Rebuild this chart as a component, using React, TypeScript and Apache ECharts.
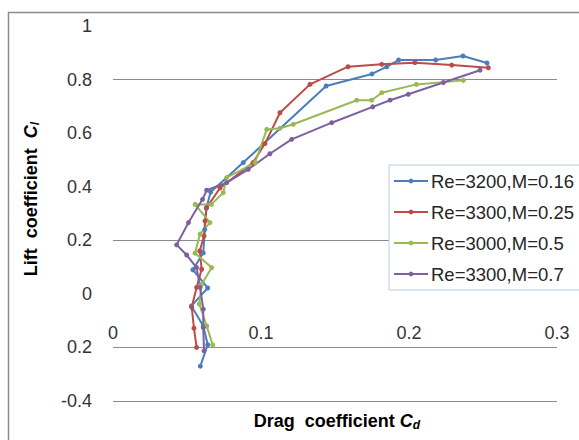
import React, { useEffect, useRef } from 'react';
import * as echarts from 'echarts';

const seriesNames = ['Re=3200,M=0.16', 'Re=3300,M=0.25', 'Re=3000,M=0.5', 'Re=3300,M=0.7'];
const seriesColors = ['#4a7ebb', '#be4b48', '#98b954', '#7d60a0'];

// [Cd, Cl]
const blueData = [
  [0.059, -0.27], [0.064, -0.19], [0.061, -0.12], [0.053, -0.045], [0.064, 0.022],
  [0.054, 0.09], [0.061, 0.153], [0.062, 0.24], [0.063, 0.32], [0.066, 0.38],
  [0.088, 0.49], [0.144, 0.776], [0.175, 0.821], [0.185, 0.848], [0.193, 0.873],
  [0.218, 0.873], [0.2365, 0.888], [0.2527, 0.862],
];
const redData = [
  [0.0565, -0.2], [0.0547, -0.128], [0.0532, -0.05], [0.0565, 0.024], [0.0599, 0.092],
  [0.0586, 0.16], [0.0615, 0.216], [0.0622, 0.272], [0.0633, 0.322], [0.0723, 0.395],
  [0.0946, 0.49], [0.1027, 0.561], [0.1128, 0.676], [0.1331, 0.782], [0.1588, 0.848],
  [0.1816, 0.857], [0.204, 0.863], [0.2289, 0.854], [0.2536, 0.844],
];
const greenData = [
  [0.0674, -0.191], [0.0633, -0.12], [0.0583, -0.038], [0.0599, 0.036], [0.0667, 0.098],
  [0.0554, 0.152], [0.0588, 0.223], [0.0655, 0.266], [0.0555, 0.334], [0.0665, 0.334],
  [0.0745, 0.378], [0.0768, 0.434], [0.096, 0.49], [0.1039, 0.614], [0.1128, 0.618],
  [0.1218, 0.633], [0.1647, 0.723], [0.1748, 0.723], [0.1816, 0.751], [0.205, 0.782],
  [0.2367, 0.797],
];
const purpleData = [
  [0.0615, -0.213], [0.061, -0.126], [0.061, -0.057], [0.0588, 0.024], [0.0565, 0.098],
  [0.0498, 0.145], [0.043, 0.183], [0.051, 0.266], [0.0605, 0.353], [0.0633, 0.387],
  [0.0768, 0.415], [0.0914, 0.465], [0.106, 0.523], [0.1207, 0.577], [0.1478, 0.639],
  [0.1755, 0.698], [0.1872, 0.723], [0.1995, 0.745], [0.2232, 0.789], [0.248, 0.835],
];
const allData = [blueData, redData, greenData, purpleData];

const gridLineValues = [0.8, 0.2, -0.2, -0.4];
const yTickLabels: Record<string, string> = {
  '1': '1', '0.8': '0.8', '0.6': '0.6', '0.4': '0.4', '0.2': '0.2', '0': '0', '-0.2': '0.2', '-0.4': '-0.4',
};
const xTickLabels: Record<string, string> = { '0': '0', '0.1': '0.1', '0.2': '0.2', '0.3': '0.3' };

const FONT = 'Liberation Sans';

export default function App() {
  const ref = useRef<HTMLDivElement>(null);
  useEffect(() => {
    if (!ref.current) return;
    const chart = echarts.init(ref.current, undefined, { renderer: 'svg' });
    const key = (v: number) => String(Math.round(v * 10) / 10);
    const series: any[] = allData.map((d, i) => ({
      name: seriesNames[i],
      type: 'line',
      data: d,
      symbol: 'circle',
      symbolSize: 5,
      showSymbol: true,
      lineStyle: { width: 2, color: seriesColors[i] },
      itemStyle: { color: seriesColors[i] },
      z: 2,
    }));
    series.push({
      name: 'grid',
      type: 'line',
      data: [],
      silent: true,
      z: 1,
      markLine: {
        silent: true,
        z: 1,
        symbol: 'none',
        label: { show: false },
        lineStyle: { color: '#8a8a8a', width: 1, type: 'solid' },
        data: gridLineValues.map((v) => ({ yAxis: v })),
      },
    });
    chart.setOption({
      animation: false,
      textStyle: { fontFamily: FONT },
      grid: { left: 113, right: 22, top: 26, bottom: 39 },
      xAxis: {
        type: 'value',
        position: 'bottom',
        min: 0,
        max: 0.3,
        interval: 0.1,
        axisLine: { show: false, onZero: false },
        axisTick: { show: false },
        splitLine: { show: false },
        axisLabel: {
          margin: -77,
          fontSize: 18,
          color: '#333333',
          fontFamily: FONT,
          formatter: (v: number) => xTickLabels[key(v)] ?? key(v),
        },
      },
      yAxis: {
        type: 'value',
        min: -0.4,
        max: 1,
        interval: 0.2,
        axisLine: { show: false },
        axisTick: { show: false },
        splitLine: { show: false },
        axisLabel: {
          margin: 21,
          fontSize: 18,
          color: '#333333',
          fontFamily: FONT,
          formatter: (v: number) => yTickLabels[key(v)] ?? key(v),
        },
      },
      legend: {
        data: seriesNames,
        orient: 'vertical',
        left: 389,
        top: 165,
        width: 189,
        z: 10,
        padding: [5, 10, 5, 4],
        itemWidth: 34,
        itemHeight: 6,
        itemGap: 9,
        backgroundColor: '#ffffff',
        borderColor: '#b9cde5',
        borderWidth: 1,
        borderRadius: 0,
        textStyle: { fontSize: 18.5, color: '#262626', fontFamily: FONT, lineHeight: 22, padding: [0, 0, 0, -2] },
      },
      graphic: [
        {
          type: 'rect',
          shape: { x: 8.5, y: 12.5, width: 700, height: 600 },
          style: { fill: 'none', stroke: '#8c8c8c', lineWidth: 1.5 },
          silent: true,
          z: -10,
        },
        {
          type: 'text',
          x: 31,
          y: 199,
          rotation: Math.PI / 2,
          style: {
            text: '{b|Lift  coefficient  }{i|C}{s|l}',
            align: 'center',
            verticalAlign: 'middle',
            rich: {
              b: { fontFamily: FONT, fontSize: 18, fontWeight: 'bold', fill: '#000' },
              i: { fontFamily: FONT, fontSize: 18, fontWeight: 'bold', fontStyle: 'italic', fill: '#000' },
              s: { fontFamily: FONT, fontSize: 12, fontWeight: 'bold', fontStyle: 'italic', fill: '#000', padding: [8, 0, 0, 0] },
            },
          },
        },
        {
          type: 'text',
          x: 337,
          y: 421,
          style: {
            text: '{b|Drag  coefficient }{i|C}{s|d}',
            align: 'center',
            verticalAlign: 'middle',
            rich: {
              b: { fontFamily: FONT, fontSize: 18, fontWeight: 'bold', fill: '#000' },
              i: { fontFamily: FONT, fontSize: 18, fontWeight: 'bold', fontStyle: 'italic', fill: '#000' },
              s: { fontFamily: FONT, fontSize: 12, fontWeight: 'bold', fontStyle: 'italic', fill: '#000', padding: [8, 0, 0, 0] },
            },
          },
        },
      ],
      series,
    });
    return () => chart.dispose();
  }, []);
  return (
    <div
      ref={ref}
      style={{ position: 'fixed', left: 0, top: 0, width: 579, height: 440, background: '#fff' }}
    />
  );
}
